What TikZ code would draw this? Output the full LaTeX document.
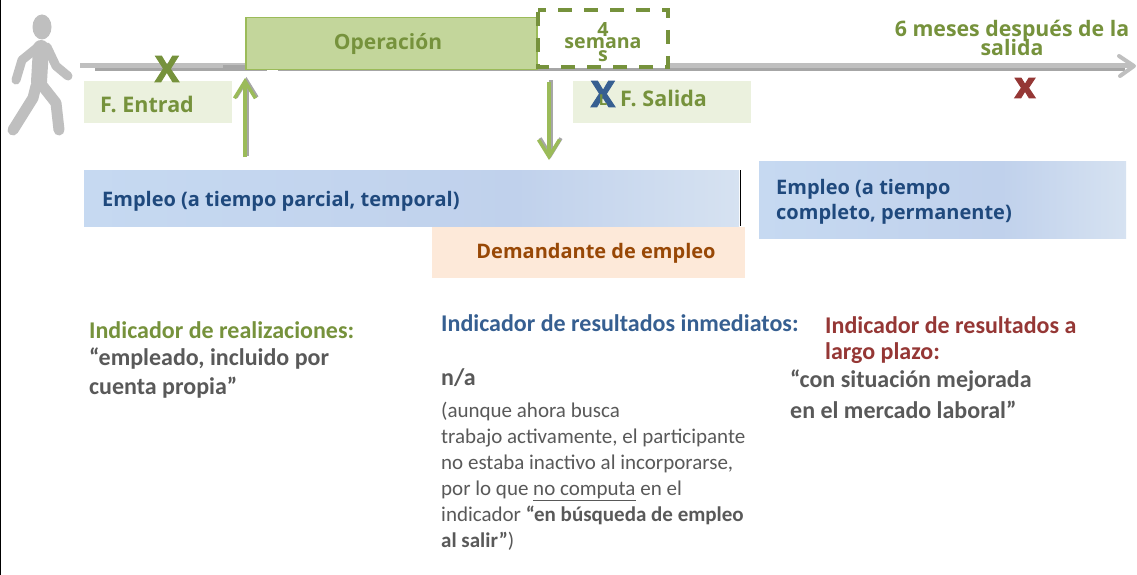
\documentclass[tikz,border=0pt]{standalone}
\usepackage{fontspec}
\setmainfont{Carlito}
\newfontfamily\opensans{Open Sans}
\newfontfamily\heavy[FakeBold=2.5]{Open Sans Bold}
\usetikzlibrary{arrows.meta}
\definecolor{grn}{RGB}{118,146,60}
\definecolor{lgrn}{RGB}{155,187,89}
\definecolor{opfill}{RGB}{195,214,155}
\definecolor{pale}{RGB}{235,241,222}
\definecolor{blu}{RGB}{54,95,145}
\definecolor{dblu}{RGB}{31,73,125}
\definecolor{redd}{RGB}{149,55,53}
\definecolor{ora}{RGB}{152,72,6}
\definecolor{peach}{RGB}{253,233,217}
\definecolor{txt}{RGB}{89,89,89}
\definecolor{ggr}{RGB}{191,191,191}
\definecolor{dgr}{RGB}{166,166,166}
\pgfdeclarehorizontalshading{rib}{100bp}{
 rgb(0bp)=(0.776,0.851,0.945);
 rgb(25bp)=(0.776,0.851,0.945);
 rgb(58bp)=(0.753,0.820,0.925);
 rgb(75bp)=(0.839,0.886,0.945);
 rgb(100bp)=(0.839,0.886,0.945)}
\tikzset{
 x=1pt,y=-1pt,
 lab/.style={font=\opensans\bfseries\fontsize{20}{20}\selectfont,text=grn,inner sep=0pt},
 card/.style={draw=none,inner sep=0pt,anchor=north west},
 ribbon/.style={card,shading=rib},
 head/.style={font=\bfseries\fontsize{24}{26}\selectfont,inner sep=0pt,anchor=north west,align=left},
 body/.style={font=\fontsize{21}{26}\selectfont,text=txt,inner sep=0pt,anchor=north west,align=left},
 xmark/.style={font=\heavy\fontsize{36}{36}\selectfont,inner sep=0pt},
 limb/.style={ggr,line width=9pt,line cap=round,line join=round},
 garrow/.style={lgrn,line width=4pt,-{Straight Barb[length=17pt,width=21pt,line width=3.5pt]}},
 sarrow/.style={dgr,line width=4pt,-{Straight Barb[length=17pt,width=21pt,line width=3.5pt]}},
}
\begin{document}
\begin{tikzpicture}
\useasboundingbox (0,0) rectangle (1137,575);
\fill[white] (0,0) rectangle (1137,575);
\fill[black] (0,0) rectangle (1.2,575);
% walker
\fill[ggr] (42,27) ellipse (9.5 and 12.5);
\draw[limb,line width=16pt] (41,48) -- (39,82);
\draw[limb] (38,47) -- (22,60) -- (16,80);
\draw[limb] (47,47) -- (56,66) -- (68,76);
\draw[limb,line width=11pt] (36,86) -- (33,98) -- (13,130);
\draw[limb,line width=11pt] (41,84) -- (56,103) -- (59,130);
% timeline
\coordinate (tlA) at (80,65.5);
\coordinate (tlB) at (1132,65.5);
\coordinate (tlC) at (95,69.5);
\coordinate (tlD) at (1125,69.5);
\draw[dgr,line width=3.5pt] (tlC) -- (tlD);
\draw[ggr,line width=5pt] (tlA) -- (tlB);
\draw[ggr,line width=4pt,line cap=round,line join=round] (1119,56) -- (1134,66) -- (1120,76);
\draw[dgr,line width=6pt] (223,68) -- (267,68);
\draw[white,line width=3pt] (267,70) -- (278,70);
% boxes
\node[card,fill=opfill,draw=lgrn,line width=1.5pt,minimum width=291pt,minimum height=52pt] (op) at (245,17) {};
\node[lab,font=\opensans\bfseries\fontsize{21}{21}\selectfont] at (388,44) {Operación};
\node[card,fill=white,minimum width=130pt,minimum height=58pt] (wk) at (538,10) {};
\draw[grn,line width=4pt,dash pattern=on 14pt off 12pt,dash phase=6pt] (538,10) -- (668,10) -- (668,67) -- (538,67) -- cycle;
\node[lab,align=center,font=\opensans\bfseries\fontsize{19.6}{13.5}\selectfont] at (603,42) {4\\[-1pt]semana\\[-1pt]s};
\node[card,fill=pale,minimum width=148pt,minimum height=42pt] (fe) at (84,81) {};
\node[lab,anchor=west,font=\opensans\bfseries\fontsize{21.5}{21}\selectfont] at (100,104) {F. Entrad};
\node[card,fill=pale,minimum width=178pt,minimum height=42pt] (fs) at (573,81) {};
\node[lab,anchor=west,font=\opensans\bfseries\fontsize{21.5}{21}\selectfont] at (620,98) {F. Salida};
% marks
\node[xmark,text=grn] (x1) at (167,69) {X};
\node[xmark,text=blu] (x2) at (603,94) {X};
\node[lab,font=\opensans\bfseries\fontsize{15}{15}\selectfont] (xl) at (603,100) {L};
\node[xmark,text=redd] (x3) at (1025,88) {x};
\node[lab,align=center,font=\opensans\bfseries\fontsize{21.3}{18}\selectfont] at (1012,38) {6 meses después de la\\[-4pt]salida};
% ribbons
\node[ribbon,minimum width=655pt,minimum height=56pt] (r1) at (84,170) {};
\node[lab,text=dblu,anchor=west] at (102,201) {Empleo (a tiempo parcial, temporal)};
\draw[black,line width=1pt] (740,170) -- (740,226);
\node[ribbon,minimum width=367pt,minimum height=77pt] (r2) at (759,161) {};
\node[lab,text=dblu,anchor=north west,align=left,font=\opensans\bfseries\fontsize{20}{25}\selectfont] at (776,179) {Empleo (a tiempo\\completo, permanente)};
\node[card,fill=peach,minimum width=313pt,minimum height=51pt] (dem) at (432,227) {};
\node[lab,text=ora] at (596,253) {Demandante de empleo};
% arrows
\coordinate (a1s) at (245,157);
\coordinate (a1e) at (245,78);
\coordinate (a2s) at (549,82);
\coordinate (a2e) at (549,160);
\draw[sarrow] ([xshift=1.5pt,yshift=1pt]a1s) -- ([xshift=1.5pt,yshift=1pt]a1e);
\draw[garrow] (a1s) -- (a1e);
\draw[sarrow] ([xshift=1.5pt,yshift=1.5pt]a2s) -- ([xshift=1.5pt,yshift=1.5pt]a2e);
\draw[garrow] (a2s) -- (a2e);
% texts
\node[head,text=grn] at (89,321) {Indicador de realizaciones:};
\node[head,text=txt,font=\bfseries\fontsize{24}{29}\selectfont] at (89,348) {“empleado, incluido por\\cuenta propia”};
\node[head,text=blu] at (441,314) {Indicador de resultados inmediatos:};
\node[head,text=txt] at (441,368) {n/a};
\node[body] at (441,402) {(aunque ahora busca\\trabajo activamente, el participante\\no estaba inactivo al incorporarse,\\por lo que \underline{no computa} en el\\indicador \textbf{“en búsqueda de empleo}\\\textbf{al salir”})};
\node[head,text=redd] at (825,316) {Indicador de resultados a\\largo plazo:};
\node[head,text=txt,font=\bfseries\fontsize{24}{31}\selectfont] at (790,370) {“con situación mejorada\\en el mercado laboral”};
\end{tikzpicture}
\end{document}
